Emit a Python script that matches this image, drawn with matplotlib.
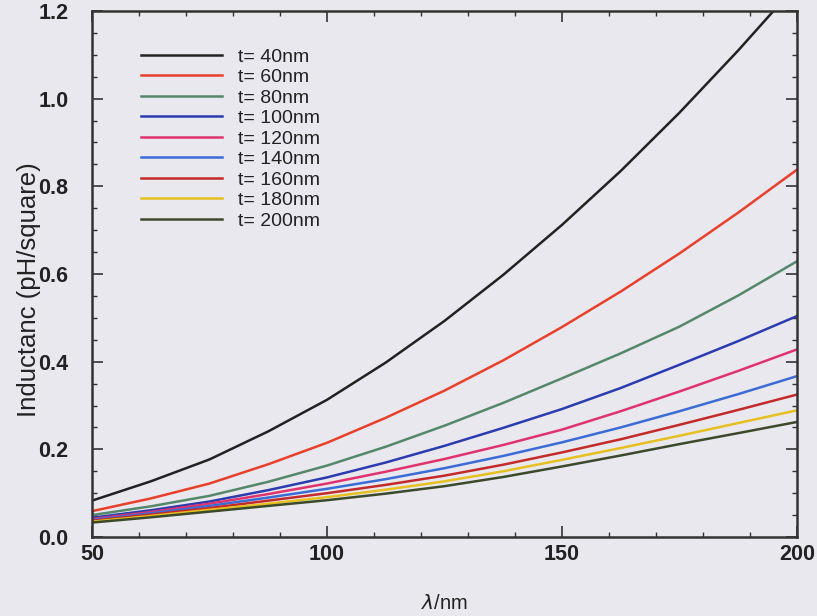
import numpy as np
import matplotlib
matplotlib.use("Agg")
import matplotlib.pyplot as plt
from matplotlib.ticker import MultipleLocator, FormatStrFormatter

plt.rcParams['font.family'] = ['Liberation Sans', 'DejaVu Sans']

# penetration depth (nm)
lam = [50, 62.5, 75, 87.5, 100, 112.5, 125, 137.5, 150, 162.5, 175, 187.5, 200]

# inductance (pH/square), one list per film thickness
L_40 = [0.083, 0.127, 0.177, 0.241, 0.313, 0.398, 0.493, 0.598, 0.712, 0.835, 0.968, 1.110, 1.26]
L_60 = [0.059, 0.088, 0.122, 0.166, 0.215, 0.272, 0.334, 0.403, 0.479, 0.560, 0.647, 0.740, 0.838]
L_80 = [0.050, 0.070, 0.094, 0.126, 0.163, 0.206, 0.254, 0.306, 0.362, 0.419, 0.480, 0.551, 0.629]
L_100 = [0.044, 0.061, 0.081, 0.107, 0.136, 0.170, 0.208, 0.249, 0.292, 0.340, 0.393, 0.447, 0.504]
L_120 = [0.041, 0.057, 0.076, 0.098, 0.122, 0.149, 0.178, 0.210, 0.245, 0.287, 0.332, 0.379, 0.428]
L_140 = [0.039, 0.054, 0.071, 0.090, 0.110, 0.132, 0.157, 0.185, 0.216, 0.250, 0.287, 0.326, 0.367]
L_160 = [0.037, 0.051, 0.066, 0.083, 0.100, 0.119, 0.140, 0.165, 0.193, 0.223, 0.256, 0.290, 0.325]
L_180 = [0.035, 0.048, 0.062, 0.076, 0.091, 0.108, 0.127, 0.150, 0.176, 0.203, 0.231, 0.260, 0.289]
L_200 = [0.033, 0.045, 0.058, 0.071, 0.084, 0.099, 0.116, 0.137, 0.161, 0.186, 0.212, 0.237, 0.2625]

labels = ['t= 40nm', 't= 60nm', 't= 80nm', 't= 100nm', 't= 120nm',
          't= 140nm', 't= 160nm', 't= 180nm', 't= 200nm']
series = [L_40, L_60, L_80, L_100, L_120, L_140, L_160, L_180, L_200]
colors = ['#222222', '#e8402a', '#55886a', '#2c3cb0', '#e0336e',
          '#3b6cd6', '#c42a2a', '#e6c020', '#3c4a2c']

bg = '#e9e8ef'
fig = plt.figure(figsize=(8.17, 6.16), dpi=100, facecolor=bg)
ax = fig.add_axes([0.1126, 0.1282, 0.8629, 0.8540], facecolor=bg)

for y, c, lab in zip(series, colors, labels):
    ax.plot(lam, y, color=c, linewidth=1.8, label=lab)

ax.set_xlim(50, 200)
ax.set_ylim(0, 1.2)
ax.xaxis.set_major_locator(MultipleLocator(50))
ax.xaxis.set_minor_locator(MultipleLocator(10))
ax.yaxis.set_major_locator(MultipleLocator(0.2))
ax.yaxis.set_minor_locator(MultipleLocator(0.05))
ax.yaxis.set_major_formatter(FormatStrFormatter('%.1f'))
ax.tick_params(which='both', direction='in', top=True, right=True,
               colors='#333333', labelcolor='#222222')
ax.tick_params(which='major', length=8, width=1.2, labelsize=15.5)
ax.tick_params(axis='y', which='major', pad=17)
ax.tick_params(axis='x', which='major', pad=5)
ax.tick_params(which='minor', length=3.5, width=1.0)
for lbl in ax.get_xticklabels() + ax.get_yticklabels():
    lbl.set_fontweight('bold')
for sp in ax.spines.values():
    sp.set_linewidth(1.8)
    sp.set_color('#333333')

ax.set_xlabel(r'$\mathit{\lambda}$/nm', fontsize=14.5, color='#222222', labelpad=21)
ax.set_ylabel('Inductanc (pH/square)', fontsize=18.5, color='#222222')
ax.yaxis.set_label_coords(-0.072, 0.47)

ax.legend(loc='upper left', bbox_to_anchor=(0.044, 0.963), frameon=False,
          fontsize=14, handlelength=4.2, handletextpad=0.8,
          labelspacing=0.15, labelcolor='#222222')

fig.savefig('out.png', dpi=100, facecolor=bg)
